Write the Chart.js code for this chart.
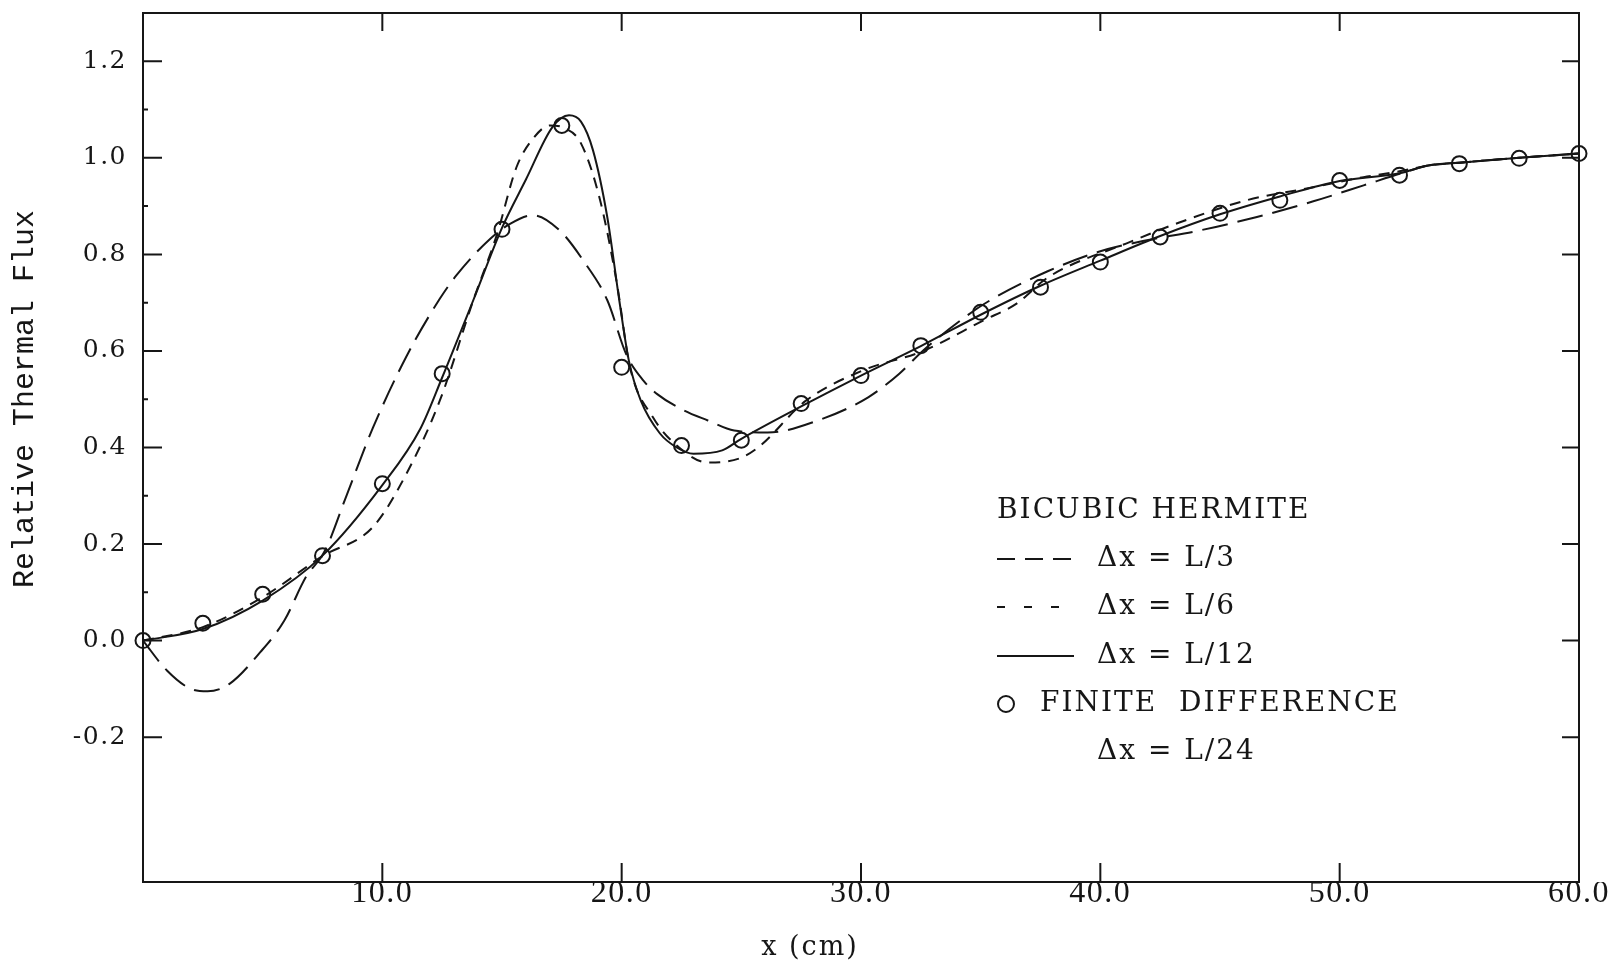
<!DOCTYPE html>
<html>
<head>
<meta charset="utf-8">
<script src="https://cdn.jsdelivr.net/npm/chart.js@4.4.1/dist/chart.umd.min.js"></script>
<style>
  html, body { margin: 0; padding: 0; background: #fff; }
  #wrap { width: 1612px; height: 965px; }
</style>
</head>
<body>
<div id="wrap"><canvas id="flux" width="1612" height="965"></canvas></div>
<script>
// axis ticks
const xTicks = [10, 20, 30, 40, 50, 60];
const xTickLabels = ['10.0', '20.0', '30.0', '40.0', '50.0', '60.0'];
const yTicks = [-0.2, 0, 0.2, 0.4, 0.6, 0.8, 1.0, 1.2];
const yTickLabels = ['-0.2', '0.0', '0.2', '0.4', '0.6', '0.8', '1.0', '1.2'];
const yMinorTicks = [0.1, 0.3, 0.5, 0.7, 0.9, 1.1];

// bicubic hermite, dx = L/3
const l3X = [0, 1, 2, 2.7, 3.6, 4.9, 5.9, 6.8, 7.6, 8.5, 9.6, 11, 12.4, 13.1, 14.5, 15.3, 16.3, 17.4, 18.4, 19.4, 20.2, 20.9, 21.5, 22.6, 23.6, 24.7, 26.1, 28.2, 30.3, 31.6, 32.6, 34.4, 35.4, 37.8, 39.9, 42.0, 44.0, 46.5, 48.9, 51.0, 52.7, 53.7, 55, 57.5, 60];
const l3Y = [0, -0.062, -0.1, -0.105, -0.09, -0.024, 0.041, 0.131, 0.186, 0.30, 0.44, 0.588, 0.708, 0.757, 0.832, 0.862, 0.881, 0.85, 0.787, 0.705, 0.592, 0.539, 0.51, 0.477, 0.456, 0.435, 0.431, 0.456, 0.504, 0.553, 0.601, 0.672, 0.705, 0.765, 0.805, 0.83, 0.848, 0.877, 0.91, 0.943, 0.97, 0.984, 0.99, 1.0, 1.009];

// dx = L/6
const l6X = [0, 2.5, 5, 7.5, 9.6, 11, 12.4, 13.8, 14.8, 15.6, 16.3, 17.0, 17.6, 18.3, 19.1, 19.8, 20.35, 21.3, 22.4, 23.6, 24.9, 25.7, 27.7, 30.1, 32.6, 35.1, 36.5, 37.8, 41.2, 43.3, 46.1, 48.9, 51.0, 52.5, 53.7, 55, 57.5, 60];
const l6Y = [0, 0.028, 0.09, 0.175, 0.235, 0.345, 0.497, 0.705, 0.843, 0.98, 1.04, 1.067, 1.062, 1.03, 0.912, 0.74, 0.566, 0.463, 0.40, 0.369, 0.377, 0.40, 0.497, 0.56, 0.60, 0.663, 0.698, 0.752, 0.825, 0.866, 0.912, 0.939, 0.96, 0.972, 0.984, 0.99, 1.0, 1.009];

// dx = L/12
const l12X = [0, 2.5, 5, 7.5, 10, 11.6, 12.5, 13.8, 15, 16, 17.1, 17.8, 18.3, 18.8, 19.4, 19.9, 20.3, 20.8, 21.6, 22.3, 23.0, 24.2, 25, 27.5, 30, 32.5, 35, 37.5, 40, 42.5, 45, 47.5, 50, 52.5, 53.7, 55, 57.5, 60];
const l12Y = [0, 0.024, 0.083, 0.176, 0.322, 0.44, 0.545, 0.705, 0.855, 0.955, 1.063, 1.088, 1.075, 1.016, 0.877, 0.705, 0.58, 0.497, 0.429, 0.40, 0.387, 0.394, 0.418, 0.485, 0.549, 0.61, 0.675, 0.735, 0.787, 0.838, 0.883, 0.92, 0.952, 0.968, 0.984, 0.99, 1.0, 1.009];

// finite difference, dx = L/24
const fdX = [0, 2.5, 5, 7.5, 10, 12.5, 15, 17.5, 20, 22.5, 25, 27.5, 30, 32.5, 35, 37.5, 40, 42.5, 45, 47.5, 50, 52.5, 55, 57.5, 60];
const fdY = [0, 0.036, 0.096, 0.176, 0.325, 0.553, 0.852, 1.067, 0.566, 0.404, 0.415, 0.491, 0.549, 0.611, 0.680, 0.732, 0.784, 0.836, 0.885, 0.912, 0.953, 0.964, 0.988, 0.999, 1.009];

const ink = '#161616';
const pts = (xs, ys) => xs.map((x, i) => ({ x: x, y: ys[i] }));

function curve(label, xs, ys, dash, legendDash) {
  return {
    label: label, data: pts(xs, ys), showLine: true, borderColor: ink, borderWidth: 2,
    borderDash: dash, legendDash: legendDash, pointRadius: 0, cubicInterpolationMode: 'monotone'
  };
}

function noPad(s) {
  s.paddingTop = 0; s.paddingBottom = 0; s.paddingLeft = 0; s.paddingRight = 0;
}

const frame = {
  id: 'frame',
  beforeDraw(chart) { chart.ctx.letterSpacing = '1.5px'; },
  afterDraw(chart) {
    const ctx = chart.ctx, a = chart.chartArea, x = chart.scales.x, y = chart.scales.y;
    ctx.save();
    ctx.letterSpacing = '0px';
    ctx.strokeStyle = ink;
    ctx.fillStyle = ink;
    ctx.lineWidth = 2;
    ctx.setLineDash([]);
    ctx.strokeRect(a.left, a.top, a.right - a.left, a.bottom - a.top);

    // inward ticks
    ctx.beginPath();
    xTicks.slice(0, -1).forEach(v => {
      const px = x.getPixelForValue(v);
      ctx.moveTo(px, a.bottom); ctx.lineTo(px, a.bottom - 19);
      ctx.moveTo(px, a.top); ctx.lineTo(px, a.top + 18);
    });
    yTicks.forEach(v => {
      const py = y.getPixelForValue(v);
      ctx.moveTo(a.left, py); ctx.lineTo(a.left + 19, py);
      ctx.moveTo(a.right, py); ctx.lineTo(a.right - 17, py);
    });
    yMinorTicks.forEach(v => {
      const py = y.getPixelForValue(v);
      ctx.moveTo(a.left, py); ctx.lineTo(a.left + 5, py);
    });
    ctx.stroke();

    // axis titles
    ctx.textBaseline = 'middle';
    ctx.textAlign = 'center';
    ctx.letterSpacing = '2px';
    ctx.font = '27px "DejaVu Serif"';
    ctx.fillText('x (cm)', 810, 948);
    ctx.save();
    ctx.translate(25, 399);
    ctx.rotate(-Math.PI / 2);
    ctx.letterSpacing = '0px';
    ctx.font = '30px "Liberation Mono"';
    ctx.fillText('Relative Thermal Flux', 0, 0);
    ctx.restore();

    // legend
    const ds = chart.data.datasets;
    ctx.textAlign = 'left';
    ctx.letterSpacing = '2px';
    ctx.font = '28px "DejaVu Serif"';
    ctx.fillText('BICUBIC HERMITE', 997, 511);
    [559, 607, 656].forEach((ly, i) => {
      ctx.setLineDash(ds[i].legendDash);
      ctx.beginPath();
      ctx.moveTo(997, ly); ctx.lineTo(1074, ly);
      ctx.stroke();
      ctx.setLineDash([]);
      ctx.fillText(ds[i].label, 1097, ly);
    });
    ctx.beginPath();
    ctx.arc(1006, 704, 8, 0, Math.PI * 2);
    ctx.stroke();
    ctx.fillText(ds[3].label, 1040, 704);
    ctx.fillText(ds[3].subLabel, 1097, 752);
    ctx.restore();
  }
};

new Chart(document.getElementById('flux'), {
  type: 'scatter',
  data: {
    datasets: [
      curve('Δx = L/3', l3X, l3Y, [26, 10], [18, 10]),
      curve('Δx = L/6', l6X, l6Y, [11, 8], [8, 19]),
      curve('Δx = L/12', l12X, l12Y, [], []),
      {
        label: 'FINITE  DIFFERENCE', subLabel: 'Δx = L/24', data: pts(fdX, fdY), showLine: false, clip: false,
        pointRadius: 7.5, pointBorderWidth: 2, pointBorderColor: ink, pointBackgroundColor: 'rgba(0,0,0,0)'
      }
    ]
  },
  options: {
    responsive: false,
    animation: false,
    events: [],
    layout: { padding: { top: 13, right: 33, left: 0, bottom: 0 } },
    plugins: { legend: { display: false }, tooltip: { enabled: false } },
    scales: {
      x: {
        type: 'linear', min: 0, max: 60,
        grid: { display: false, drawTicks: false }, border: { display: false },
        afterBuildTicks: s => { s.ticks = xTicks.map(v => ({ value: v })); },
        afterFit: s => { s.height = 83; noPad(s); },
        ticks: { color: ink, padding: -8, maxRotation: 0, font: { family: 'Liberation Serif', size: 32 }, callback: (v, i) => xTickLabels[i] }
      },
      y: {
        type: 'linear', min: -0.5, max: 1.3,
        grid: { display: false, drawTicks: false }, border: { display: false },
        afterBuildTicks: s => { s.ticks = yTicks.map(v => ({ value: v })); },
        afterFit: s => { s.width = 143; noPad(s); },
        ticks: { color: ink, padding: 16, font: { family: 'DejaVu Serif', size: 25 }, callback: (v, i) => yTickLabels[i] }
      }
    }
  },
  plugins: [frame]
});
</script>
</body>
</html>
